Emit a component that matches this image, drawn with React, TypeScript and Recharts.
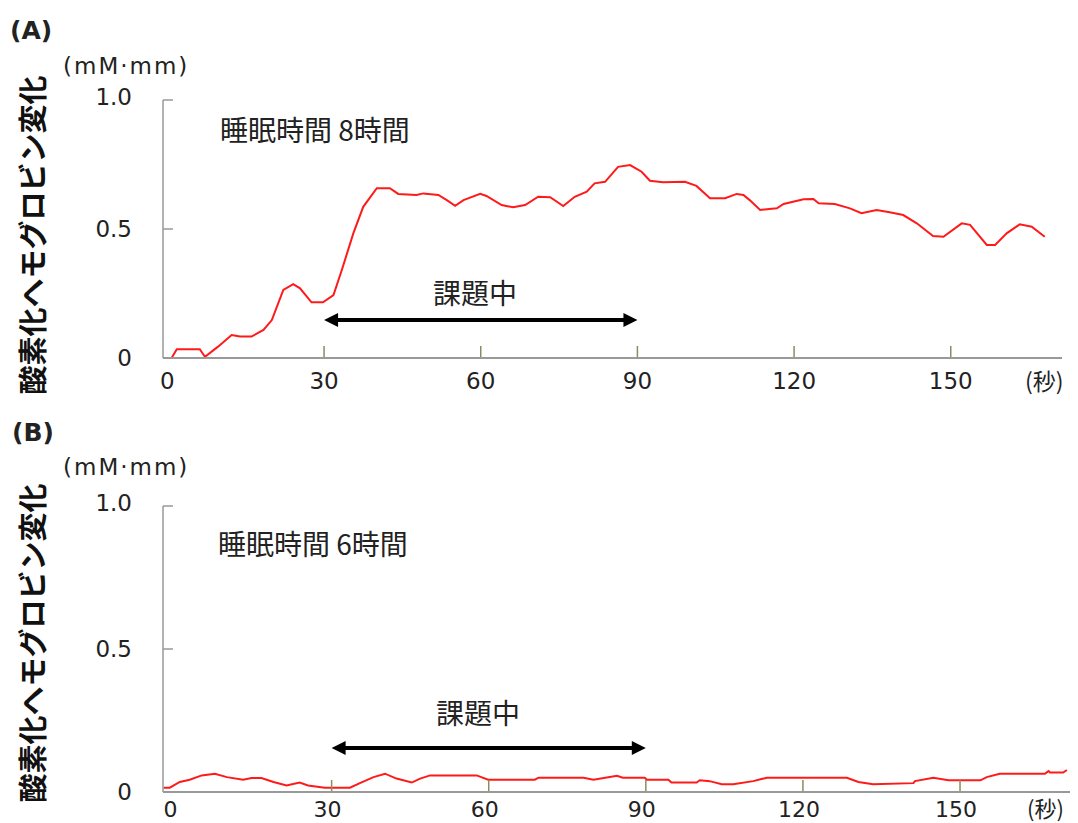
import { LineChart, Line, XAxis, YAxis, ReferenceLine } from 'recharts';

// seconds / oxy-Hb change (mM·mm)
const timeA = [0.8, 1.8, 6.2, 7.2, 9.7, 12.3, 13.9, 16.1, 18.4, 20, 22.2, 24.1, 25.4, 27.6, 29.8, 31.8, 33.4, 35.6, 37.5, 40.1, 42.6, 44.2, 47.7, 49, 51.9, 53.5, 55.1, 56.7, 59.9, 61.1, 64, 66.2, 68.5, 71, 73.3, 75.8, 78, 80.3, 81.8, 83.8, 86.3, 88.6, 90.8, 92.4, 94.9, 99.1, 101.3, 103.9, 106.8, 109, 110.3, 111.5, 113.5, 116.7, 118, 121.8, 123.7, 124.7, 127.8, 130.7, 132.9, 135.8, 138.3, 140.9, 143.5, 146.6, 148.6, 152.1, 153.7, 156.9, 158.5, 160.7, 163.2, 165.5, 168];
const valueA = [0, 0.034, 0.034, 0.005, 0.044, 0.089, 0.083, 0.083, 0.109, 0.147, 0.264, 0.286, 0.27, 0.216, 0.216, 0.244, 0.341, 0.483, 0.586, 0.658, 0.658, 0.636, 0.632, 0.638, 0.632, 0.612, 0.59, 0.612, 0.636, 0.628, 0.593, 0.584, 0.593, 0.625, 0.623, 0.589, 0.625, 0.645, 0.677, 0.683, 0.741, 0.748, 0.722, 0.687, 0.681, 0.683, 0.667, 0.619, 0.619, 0.636, 0.632, 0.612, 0.574, 0.58, 0.597, 0.615, 0.616, 0.6, 0.597, 0.58, 0.561, 0.574, 0.565, 0.554, 0.522, 0.473, 0.47, 0.522, 0.516, 0.438, 0.438, 0.483, 0.518, 0.509, 0.47];

const timeB = [-2.1, -0.9, 1, 2.9, 5.2, 7.7, 10, 13.1, 14.7, 16.6, 18.9, 21.4, 23.9, 25.5, 28.7, 33.5, 35.4, 38, 40.2, 42.4, 45.3, 46.9, 48.8, 57.7, 59.9, 68.8, 69.5, 78.1, 80, 84.5, 85.6, 89.8, 90.2, 94.3, 94.9, 99.7, 100.3, 102.2, 104.5, 106.7, 110.5, 113.1, 128.4, 130.6, 133.4, 141.1, 141.4, 144.9, 147.8, 153.9, 155.1, 157.6, 166.2, 166.9, 167.2, 169.7, 170.4];
const valueB = [0.015, 0.015, 0.035, 0.043, 0.058, 0.064, 0.052, 0.043, 0.049, 0.049, 0.035, 0.023, 0.033, 0.023, 0.015, 0.015, 0.031, 0.052, 0.064, 0.047, 0.033, 0.047, 0.058, 0.058, 0.043, 0.043, 0.05, 0.05, 0.043, 0.057, 0.05, 0.05, 0.043, 0.043, 0.033, 0.033, 0.041, 0.038, 0.027, 0.027, 0.038, 0.05, 0.05, 0.035, 0.027, 0.031, 0.038, 0.05, 0.041, 0.041, 0.052, 0.064, 0.064, 0.073, 0.068, 0.068, 0.077];

const xTicks = [0, 30, 60, 90, 120, 150];
const yTicks = [0, 0.5, 1];
const taskStart = 30;
const taskEnd = 90;

const dataA = timeA.map((t, i) => ({ t, v: valueA[i] }));
const dataB = timeB.map((t, i) => ({ t, v: valueB[i] }));

const numFont = "'DejaVu Sans', Verdana, sans-serif";
const cjkFont = "'Noto Sans CJK JP', sans-serif";

const XTick = (props: any) => {
  const { x, y, payload, dy, dx, fs } = props;
  return (
    <g>
      {payload.value !== 0 && <line x1={x} x2={x} y1={y - 1} y2={y - 12} stroke="#8f8a5e" strokeWidth={1.5} />}
      <text x={x + dx} y={y + dy} textAnchor="middle" dominantBaseline="central" fontFamily={numFont} fontSize={fs} fill="#222">
        {payload.value}
      </text>
    </g>
  );
};

const YTick = (props: any) => {
  const { x, y, payload } = props;
  const label = payload.value === 0 ? '0' : payload.value.toFixed(1);
  return (
    <g>
      {payload.value !== 0 && <line x1={x} x2={x + 10} y1={y} y2={y} stroke="#999" strokeWidth={1.5} />}
      <text x={x - 31} y={payload.value === 1 ? y - 3 : y} textAnchor="end" dominantBaseline="central" fontFamily={numFont} fontSize={23} fill="#222">
        {label}
      </text>
    </g>
  );
};

const Arrow = (props: any) => {
  const { x1, y1, x2, y2 } = props;
  return (
    <g>
      <line x1={x1 + 10} y1={y1} x2={x2 - 10} y2={y2} stroke="#000" strokeWidth={4} />
      <polygon points={`${x1},${y1} ${x1 + 14},${y1 - 7} ${x1 + 14},${y1 + 7}`} fill="#000" />
      <polygon points={`${x2},${y2} ${x2 - 14},${y2 - 7} ${x2 - 14},${y2 + 7}`} fill="#000" />
    </g>
  );
};

const abs = (left: number, top: number, extra: any = {}) => ({
  position: 'absolute' as const,
  left,
  top,
  whiteSpace: 'nowrap' as const,
  lineHeight: 1,
  color: '#222',
  ...extra,
});

function Panel({ data, domain, height, margin, xAxisHeight, labelDy, labelDx, labelSize, arrowY }: any) {
  return (
    <LineChart width={1078} height={height} data={data} margin={margin}>
      <XAxis
        dataKey="t"
        type="number"
        domain={domain}
        ticks={xTicks}
        allowDataOverflow
        height={xAxisHeight}
        tickSize={0}
        tickMargin={0}
        tickLine={false}
        axisLine={{ stroke: '#999', strokeWidth: 2 }}
        tick={(p: any) => <XTick {...p} dy={labelDy} dx={labelDx} fs={labelSize} />}
        interval={0}
      />
      <YAxis
        type="number"
        domain={[0, 1]}
        ticks={yTicks}
        width={60}
        tickSize={0}
        tickMargin={0}
        tickLine={false}
        axisLine={{ stroke: '#999', strokeWidth: 1.5 }}
        tick={(p: any) => <YTick {...p} />}
        interval={0}
      />
      <ReferenceLine
        segment={[{ x: taskStart, y: arrowY }, { x: taskEnd, y: arrowY }]}
        shape={(p: any) => <Arrow {...p} />}
      />
      <Line type="linear" dataKey="v" stroke="#ff1a1a" strokeWidth={2} dot={false} isAnimationActive={false} />
    </LineChart>
  );
}

export default function App() {
  return (
    <div style={{ position: 'absolute', left: 0, top: 0, width: 1078, height: 823, background: '#fff', overflow: 'hidden' }}>
      <div style={{ position: 'absolute', left: 0, top: 0 }}>
        <Panel
          data={dataA}
          domain={[-0.84, 171.3]}
          height={400}
          margin={{ top: 100, right: 16, bottom: 0, left: 103 }}
          xAxisHeight={42}
          labelDy={23}
          labelDx={0}
          labelSize={23}
          arrowY={0.147}
        />
      </div>
      <div style={{ position: 'absolute', left: 0, top: 406 }}>
        <Panel
          data={dataB}
          domain={[-2.2, 171.0]}
          height={417}
          margin={{ top: 100, right: 8, bottom: 0, left: 103 }}
          xAxisHeight={31}
          labelDy={17}
          labelDx={-4}
          labelSize={22}
          arrowY={0.154}
        />
      </div>

      <div style={abs(10, 18, { fontFamily: numFont, fontWeight: 700, fontSize: 25 })}>(A)</div>
      <div style={abs(12, 420, { fontFamily: numFont, fontWeight: 700, fontSize: 25 })}>(B)</div>

      <div style={abs(63, 55, { fontFamily: numFont, fontSize: 23, letterSpacing: 2 })}>(mM·mm)</div>
      <div style={abs(63, 456, { fontFamily: numFont, fontSize: 23, letterSpacing: 2 })}>(mM·mm)</div>

      {[235, 643].map((cy) => (
        <div
          key={cy}
          style={abs(31, cy, {
            fontFamily: cjkFont,
            fontWeight: 700,
            fontSize: 29,
            color: '#111',
            transform: 'translate(-50%, -50%) rotate(-90deg)',
          })}
        >
          酸素化ヘモグロビン変化
        </div>
      ))}

      <div style={abs(220, 115, { fontFamily: cjkFont, fontSize: 28 })}>睡眠時間 8時間</div>
      <div style={abs(218, 529, { fontFamily: cjkFont, fontSize: 28 })}>睡眠時間 6時間</div>

      <div style={abs(433, 278, { fontFamily: cjkFont, fontSize: 28 })}>課題中</div>
      <div style={abs(436, 698, { fontFamily: cjkFont, fontSize: 28 })}>課題中</div>

      <div style={abs(1025, 369, { fontFamily: cjkFont, fontSize: 23 })}>(秒)</div>
      <div style={abs(1027, 796, { fontFamily: cjkFont, fontSize: 22 })}>(秒)</div>
    </div>
  );
}
